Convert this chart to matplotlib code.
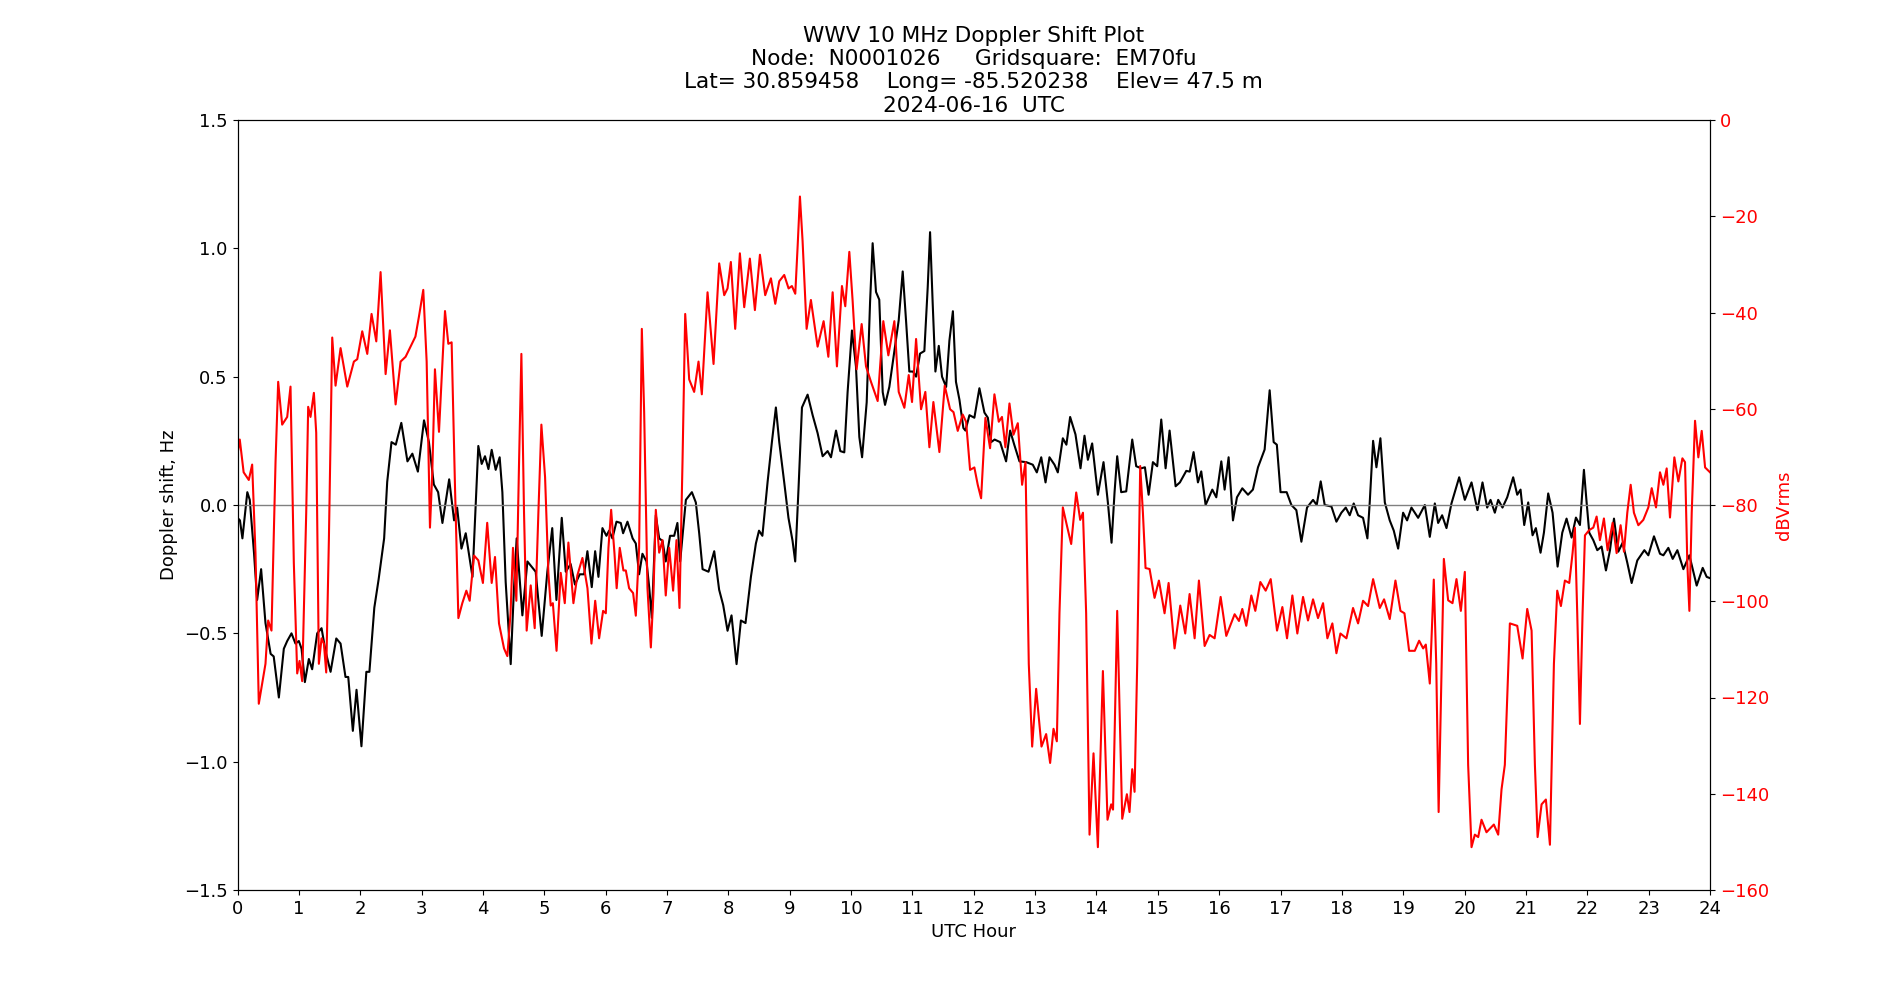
#WWV 10 MHz doppler shift plot for one day, doppler (left axis) and received power (right axis)
import matplotlib
matplotlib.use('Agg')
import matplotlib.pyplot as plt

node = 'N0001026'
grid = 'EM70fu'
lat = '30.859458'
lon = '-85.520238'
elev = '47.5'
date = '2024-06-16'

doppler_hour = [0.0, 0.04, 0.08, 0.16, 0.2, 0.27, 0.32, 0.385, 0.456, 0.54, 0.59, 0.674, 0.755, 0.81, 0.88, 0.945,
  1.0, 1.044, 1.098, 1.163, 1.217, 1.299, 1.37, 1.435, 1.517, 1.61, 1.68, 1.76, 1.805, 1.88, 1.94,
  2.02, 2.1, 2.15, 2.23, 2.3, 2.39, 2.44, 2.51, 2.58, 2.67, 2.77, 2.85, 2.94,
  3.04, 3.12, 3.2, 3.27, 3.34, 3.45, 3.53, 3.58, 3.65, 3.72, 3.83, 3.925, 3.98,
  4.034, 4.09, 4.143, 4.208, 4.273, 4.317, 4.371, 4.453, 4.507, 4.55, 4.59, 4.643, 4.725, 4.86, 4.958,
  5.05, 5.13, 5.198, 5.285, 5.35, 5.43, 5.5, 5.578, 5.65, 5.703, 5.774, 5.829, 5.883, 5.948,
  6.013, 6.057, 6.11, 6.177, 6.247, 6.285, 6.356, 6.44, 6.492, 6.546, 6.6, 6.666, 6.71, 6.753, 6.818, 6.873, 6.927, 6.98,
  7.05, 7.117, 7.17, 7.215, 7.308, 7.406, 7.47, 7.525, 7.58, 7.677, 7.77, 7.85, 7.916, 7.987,
  8.052, 8.134, 8.205, 8.28, 8.368, 8.449, 8.5, 8.555, 8.64, 8.71, 8.775, 8.83, 8.91, 8.98,
  9.047, 9.09, 9.145, 9.2, 9.292, 9.374, 9.455, 9.537, 9.618, 9.673, 9.755, 9.825, 9.89, 9.944,
  10.015, 10.08, 10.135, 10.18, 10.255, 10.31, 10.352, 10.407, 10.46, 10.516, 10.554, 10.624, 10.706, 10.777, 10.842, 10.896, 10.95,
  11.01, 11.06, 11.125, 11.195, 11.25, 11.288, 11.33, 11.375, 11.43, 11.483, 11.55, 11.603, 11.66, 11.71, 11.767, 11.831, 11.864, 11.93,
  12.01, 12.092, 12.174, 12.23, 12.283, 12.34, 12.43, 12.527, 12.593, 12.66, 12.745, 12.854, 12.962,
  13.028, 13.1, 13.17, 13.234, 13.316, 13.37, 13.452, 13.51, 13.571, 13.658, 13.74, 13.805, 13.86, 13.93,
  14.023, 14.115, 14.186, 14.246, 14.295, 14.338, 14.403, 14.485, 14.583, 14.648, 14.73, 14.79, 14.85, 14.92, 14.99,
  15.056, 15.127, 15.192, 15.29, 15.36, 15.464, 15.52, 15.583, 15.654, 15.708, 15.779, 15.834, 15.888, 15.953,
  16.035, 16.089, 16.154, 16.225, 16.29, 16.377, 16.47, 16.55, 16.633, 16.741, 16.823, 16.888, 16.94,
  17.0, 17.1, 17.177, 17.258, 17.34, 17.432, 17.53, 17.59, 17.655, 17.72, 17.83, 17.911, 17.992,
  18.063, 18.128, 18.193, 18.264, 18.345, 18.416, 18.454, 18.509, 18.563, 18.628, 18.7, 18.78, 18.846, 18.917, 18.998,
  19.063, 19.134, 19.243, 19.352, 19.433, 19.515, 19.569, 19.634, 19.705, 19.786, 19.912,
  20.004, 20.113, 20.21, 20.292, 20.368, 20.423, 20.493, 20.548, 20.618, 20.695, 20.792, 20.858, 20.912, 20.972,
  21.037, 21.108, 21.162, 21.238, 21.293, 21.363, 21.434, 21.516, 21.592, 21.662, 21.744, 21.815, 21.88, 21.945, 21.989,
  22.032, 22.098, 22.163, 22.233, 22.304, 22.37, 22.435, 22.505, 22.576, 22.652, 22.723, 22.815, 22.93, 22.995,
  23.087, 23.185, 23.24, 23.321, 23.392, 23.468, 23.566, 23.664, 23.783, 23.881, 23.946, 24.0]
doppler_hz = [-0.05, -0.06, -0.13, 0.05, 0.02, -0.19, -0.37, -0.25, -0.46, -0.58, -0.59, -0.75, -0.56, -0.53, -0.5, -0.54,
  -0.53, -0.56, -0.69, -0.6, -0.64, -0.5, -0.48, -0.57, -0.65, -0.52, -0.54, -0.67, -0.67, -0.88, -0.72,
  -0.94, -0.65, -0.65, -0.4, -0.29, -0.13, 0.09, 0.245, 0.235, 0.32, 0.17, 0.2, 0.13,
  0.33, 0.245, 0.08, 0.05, -0.07, 0.1, -0.06, -0.01, -0.17, -0.11, -0.28, 0.23, 0.16,
  0.19, 0.14, 0.215, 0.137, 0.186, 0.05, -0.3, -0.62, -0.32, -0.13, -0.26, -0.43, -0.22, -0.26, -0.51,
  -0.26, -0.09, -0.37, -0.05, -0.26, -0.23, -0.31, -0.27, -0.27, -0.18, -0.32, -0.18, -0.28, -0.09,
  -0.12, -0.1, -0.13, -0.065, -0.07, -0.11, -0.065, -0.13, -0.15, -0.27, -0.19, -0.22, -0.32, -0.44, -0.04, -0.13, -0.14, -0.22,
  -0.12, -0.12, -0.07, -0.22, 0.02, 0.05, 0.01, -0.11, -0.25, -0.26, -0.18, -0.33, -0.39, -0.49,
  -0.43, -0.62, -0.45, -0.46, -0.28, -0.15, -0.1, -0.12, 0.09, 0.245, 0.38, 0.245, 0.09, -0.05,
  -0.14, -0.22, 0.07, 0.38, 0.43, 0.35, 0.28, 0.19, 0.21, 0.186, 0.29, 0.21, 0.205, 0.44,
  0.68, 0.54, 0.265, 0.186, 0.4, 0.79, 1.02, 0.83, 0.8, 0.44, 0.39, 0.46, 0.6, 0.72, 0.91, 0.72, 0.52,
  0.52, 0.5, 0.59, 0.6, 0.85, 1.063, 0.79, 0.52, 0.62, 0.5, 0.46, 0.64, 0.755, 0.48, 0.41, 0.3, 0.29, 0.35,
  0.34, 0.455, 0.36, 0.34, 0.245, 0.255, 0.245, 0.17, 0.29, 0.235, 0.17, 0.167, 0.157,
  0.127, 0.186, 0.088, 0.186, 0.157, 0.127, 0.26, 0.235, 0.343, 0.275, 0.143, 0.27, 0.176, 0.24,
  0.04, 0.167, 0.01, -0.147, 0.05, 0.19, 0.05, 0.053, 0.255, 0.151, 0.143, 0.147, 0.04, 0.167, 0.151,
  0.333, 0.143, 0.29, 0.073, 0.088, 0.133, 0.13, 0.206, 0.088, 0.131, 0.0, 0.03, 0.06, 0.03,
  0.17, 0.06, 0.186, -0.06, 0.03, 0.065, 0.04, 0.06, 0.147, 0.216, 0.447, 0.245, 0.235,
  0.05, 0.05, 0.0, -0.02, -0.143, -0.01, 0.02, 0.0, 0.092, 0.0, -0.006, -0.065, -0.03,
  -0.01, -0.04, 0.006, -0.04, -0.05, -0.13, 0.01, 0.25, 0.147, 0.26, 0.01, -0.06, -0.1, -0.17, -0.03,
  -0.06, -0.01, -0.05, 0.0, -0.124, 0.006, -0.07, -0.04, -0.09, 0.006, 0.108,
  0.02, 0.088, -0.02, 0.088, -0.01, 0.02, -0.03, 0.02, -0.01, 0.03, 0.108, 0.04, 0.06, -0.078,
  0.01, -0.118, -0.09, -0.186, -0.108, 0.045, -0.03, -0.24, -0.108, -0.053, -0.127, -0.049, -0.078, 0.137, 0.01,
  -0.108, -0.137, -0.176, -0.162, -0.255, -0.176, -0.053, -0.182, -0.147, -0.225, -0.304, -0.216, -0.176, -0.196,
  -0.122, -0.19, -0.196, -0.167, -0.21, -0.176, -0.25, -0.196, -0.314, -0.245, -0.28, -0.285]

power_hour = [0.005, 0.037, 0.1, 0.184, 0.239, 0.293, 0.347, 0.402, 0.456, 0.5, 0.554, 0.62, 0.663, 0.728, 0.81, 0.864, 0.918, 0.973,
  1.011, 1.054, 1.12, 1.152, 1.19, 1.245, 1.283, 1.326, 1.37, 1.408, 1.446, 1.49, 1.544, 1.598, 1.68, 1.789, 1.897, 1.952,
  2.033, 2.115, 2.185, 2.262, 2.332, 2.414, 2.484, 2.577, 2.658, 2.74, 2.82, 2.9, 2.958,
  3.028, 3.083, 3.137, 3.175, 3.218, 3.284, 3.382, 3.436, 3.49, 3.545, 3.6, 3.664, 3.73, 3.784, 3.855, 3.925,
  4.0, 4.07, 4.143, 4.197, 4.262, 4.344, 4.398, 4.45, 4.49, 4.545, 4.589, 4.627, 4.67, 4.713, 4.779, 4.844, 4.904, 4.953,
  5.013, 5.067, 5.105, 5.14, 5.2, 5.268, 5.334, 5.393, 5.475, 5.54, 5.622, 5.704, 5.769, 5.83, 5.894, 5.959,
  6.003, 6.046, 6.09, 6.144, 6.18, 6.23, 6.29, 6.329, 6.383, 6.448, 6.492, 6.546, 6.59, 6.628, 6.682, 6.737, 6.78, 6.818, 6.873, 6.927, 6.98,
  7.036, 7.1, 7.155, 7.204, 7.253, 7.297, 7.362, 7.443, 7.514, 7.568, 7.661, 7.759, 7.851, 7.933, 7.987,
  8.041, 8.112, 8.188, 8.259, 8.351, 8.433, 8.515, 8.601, 8.694, 8.765, 8.83, 8.911, 8.982,
  9.036, 9.091, 9.13, 9.167, 9.21, 9.276, 9.346, 9.455, 9.553, 9.63, 9.7, 9.77, 9.852, 9.906, 9.972,
  10.026, 10.091, 10.173, 10.244, 10.325, 10.434, 10.526, 10.608, 10.706, 10.777, 10.869, 10.94, 10.994,
  11.06, 11.141, 11.211, 11.277, 11.342, 11.44, 11.527, 11.614, 11.67, 11.739, 11.82, 11.875, 11.94,
  12.01, 12.065, 12.12, 12.19, 12.266, 12.337, 12.408, 12.46, 12.516, 12.582, 12.647, 12.718, 12.788, 12.843, 12.897, 12.952,
  13.017, 13.104, 13.18, 13.245, 13.3, 13.354, 13.397, 13.452, 13.517, 13.588, 13.67, 13.735, 13.78, 13.832, 13.887, 13.952,
  14.023, 14.105, 14.18, 14.24, 14.27, 14.338, 14.42, 14.496, 14.539, 14.583, 14.621, 14.664, 14.713, 14.757, 14.8, 14.866, 14.947,
  15.018, 15.11, 15.176, 15.273, 15.366, 15.447, 15.518, 15.6, 15.67, 15.763, 15.844, 15.926,
  16.024, 16.116, 16.252, 16.323, 16.377, 16.442, 16.524, 16.589, 16.671, 16.758, 16.84, 16.943,
  17.03, 17.106, 17.193, 17.274, 17.367, 17.448, 17.53, 17.611, 17.693, 17.764, 17.845, 17.911, 17.976,
  18.074, 18.182, 18.264, 18.345, 18.427, 18.509, 18.618, 18.688, 18.78, 18.873, 18.955,
  19.02, 19.096, 19.188, 19.259, 19.325, 19.368, 19.433, 19.498, 19.538, 19.577, 19.61, 19.662, 19.732, 19.803, 19.868, 19.939,
  20.004, 20.058, 20.113, 20.167, 20.222, 20.276, 20.357, 20.477, 20.548, 20.602, 20.656, 20.738, 20.858, 20.945,
  21.021, 21.092, 21.146, 21.19, 21.255, 21.325, 21.391, 21.456, 21.51, 21.57, 21.635, 21.706, 21.76, 21.798, 21.836, 21.88, 21.923, 21.962,
  22.032, 22.098, 22.152, 22.206, 22.271, 22.331, 22.413, 22.478, 22.543, 22.598, 22.652, 22.707, 22.76, 22.832, 22.913, 22.995,
  23.05, 23.12, 23.185, 23.24, 23.294, 23.348, 23.419, 23.484, 23.55, 23.593, 23.63, 23.664, 23.702, 23.756, 23.81, 23.865, 23.92, 24.0]
power_db = [-69.0, -66.4, -73.2, -74.8, -71.6, -89.9, -121.3, -117.1, -113.0, -104.0, -106.1, -71.0, -54.4, -63.3, -61.7, -55.4, -92.0, -115.0,
  -112.4, -116.6, -81.6, -59.6, -61.7, -56.7, -65.0, -113.0, -107.7, -108.8, -114.8, -86.8, -45.2, -55.2, -47.4, -55.4, -50.2, -49.7,
  -43.9, -48.6, -40.3, -46.0, -31.6, -52.8, -43.7, -59.1, -50.2, -49.2, -47.1, -45.0, -40.8,
  -35.3, -50.2, -84.7, -73.2, -51.8, -64.8, -39.7, -46.5, -46.2, -76.3, -103.5, -100.4, -97.8, -99.9, -90.5, -91.5,
  -96.2, -83.7, -96.2, -90.8, -104.6, -109.8, -111.4, -102.5, -88.9, -99.9, -71.1, -48.6, -81.6, -106.1, -96.7, -105.6, -81.6, -63.3,
  -74.2, -94.1, -100.9, -100.4, -110.3, -94.1, -100.4, -87.8, -100.4, -94.6, -91.0, -97.3, -108.8, -99.9, -107.7, -102.0,
  -102.5, -88.9, -81.0, -90.0, -97.3, -88.9, -93.6, -93.6, -97.3, -98.3, -103.0, -88.9, -43.4, -60.7, -97.3, -109.6, -98.3, -81.0, -89.9, -87.3, -98.8,
  -88.9, -97.8, -87.3, -101.4, -71.1, -40.3, -53.9, -56.5, -50.2, -57.0, -35.8, -50.7, -29.8, -36.4, -35.0,
  -29.5, -43.4, -27.7, -38.9, -28.8, -39.5, -28.0, -36.4, -32.9, -38.2, -33.5, -32.2, -35.0,
  -34.5, -36.1, -26.1, -15.9, -25.1, -43.4, -37.4, -47.1, -41.8, -49.2, -35.8, -51.2, -34.5, -38.7, -27.4,
  -37.6, -51.8, -42.4, -51.2, -54.4, -58.4, -41.8, -48.9, -41.8, -56.5, -59.8, -53.0, -58.6,
  -45.5, -60.1, -56.5, -68.0, -58.6, -69.0, -55.2, -60.1, -60.7, -64.6, -61.2, -62.7, -72.7,
  -72.2, -75.8, -78.6, -61.9, -68.2, -57.0, -62.7, -61.7, -68.0, -58.9, -65.4, -63.0, -75.8, -71.1, -113.0, -130.2,
  -118.2, -130.2, -127.6, -133.6, -126.5, -129.1, -102.5, -80.5, -84.2, -88.1, -77.4, -83.1, -81.6, -102.5, -148.5, -131.6,
  -151.1, -114.5, -145.4, -142.2, -143.3, -102.0, -145.2, -140.1, -143.8, -134.9, -139.6, -113.0, -71.9, -81.6, -93.1, -93.3, -99.3,
  -95.7, -102.5, -96.2, -109.8, -100.9, -106.7, -98.5, -107.7, -95.7, -109.3, -107.0, -107.7,
  -99.1, -107.2, -102.7, -104.1, -101.6, -105.1, -98.8, -102.0, -96.0, -97.8, -95.4, -106.1,
  -101.2, -107.7, -98.8, -106.7, -99.1, -104.0, -99.6, -103.5, -100.4, -107.7, -104.6, -110.8, -106.7,
  -107.7, -101.4, -104.6, -99.9, -101.0, -95.4, -101.4, -99.6, -103.7, -95.7, -102.0,
  -102.5, -110.3, -110.3, -108.2, -109.8, -109.0, -117.1, -95.5, -113.0, -143.8, -123.4, -91.2, -99.8, -100.4, -95.4, -102.0,
  -93.9, -134.0, -151.1, -148.5, -149.0, -145.4, -148.0, -146.4, -148.5, -139.1, -134.0, -104.6, -105.1, -111.9,
  -101.6, -106.1, -134.0, -149.0, -142.2, -141.2, -150.6, -113.0, -97.8, -101.0, -95.7, -96.2, -90.0, -84.7, -102.5, -125.5, -102.5, -86.3,
  -85.2, -84.7, -82.4, -87.3, -82.8, -89.4, -83.7, -90.0, -84.2, -89.7, -81.6, -75.8, -81.6, -84.2, -83.1, -80.5,
  -76.5, -80.5, -73.2, -75.8, -72.4, -82.6, -70.1, -75.1, -70.3, -71.1, -92.0, -102.0, -81.6, -62.5, -70.1, -64.6, -72.2, -73.2]

plt.rcParams['font.size'] = 13

fig = plt.figure(figsize=(19, 10), dpi=100)
ax = fig.add_subplot(111)
ax.plot(doppler_hour, doppler_hz, color='black', linewidth=1.5)
ax.axhline(0, color='gray', linewidth=1)
ax.set_xlim(0, 24)
ax.set_ylim(-1.5, 1.5)
ax.set_xticks(range(0, 25))
ax.set_xlabel('UTC Hour')
ax.set_ylabel('Doppler shift, Hz')
ax.set_title(f"WWV 10 MHz Doppler Shift Plot\nNode:  {node}     Gridsquare:  {grid}\n"
             f"Lat= {lat}    Long= {lon}    Elev= {elev} m\n{date}  UTC")

ax2 = ax.twinx()
ax2.plot(power_hour, power_db, color='red', linewidth=1.5)
ax2.set_ylim(-160, 0)
ax2.set_ylabel('dBVrms', color='red')
ax2.tick_params(axis='y', labelcolor='red')

fig.savefig('out.png')
